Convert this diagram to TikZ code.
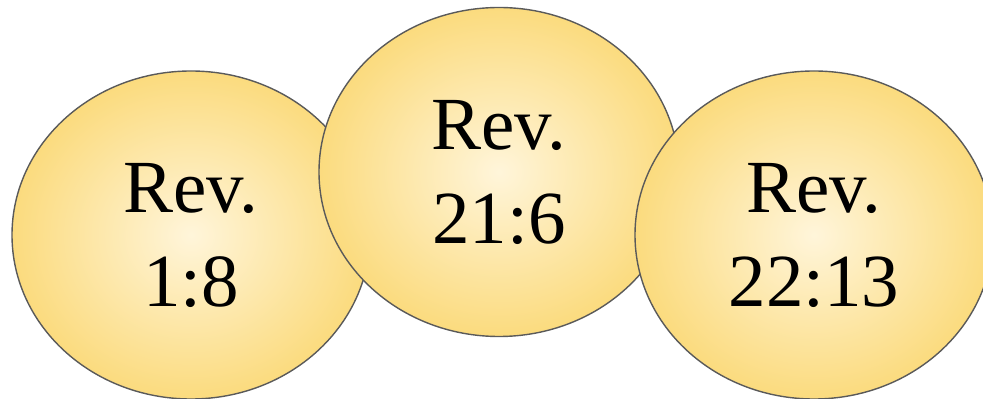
\documentclass[tikz,border=0pt]{standalone}
\usepackage{fontspec}
\setmainfont{Liberation Serif}
\usetikzlibrary{shapes.geometric}
\definecolor{cream}{HTML}{FFF5DA}
\definecolor{gold}{HTML}{FBDB7E}
\definecolor{rim}{HTML}{5A5A5A}
\begin{document}
\begin{tikzpicture}[x=1pt, y=1pt, line join=round, line cap=round,
  verse/.style={ellipse, draw=rim, line width=1.4pt, inner sep=0pt,
    minimum width=358pt, minimum height=328pt,
    shading=radial, inner color=cream, outer color=gold,
    align=center, font=\fontsize{75}{94}\selectfont}]
\useasboundingbox(0,0)rectangle(983,399);
\node(rev1)[verse]at(191,164){Rev.\\1:8};
\node(rev2)[verse, minimum width=360pt, minimum height=329pt]at(499,227){Rev.\\21:6};
\node(rev3)[verse]at(814,164){Rev.\\22:13};
\end{tikzpicture}
\end{document}
